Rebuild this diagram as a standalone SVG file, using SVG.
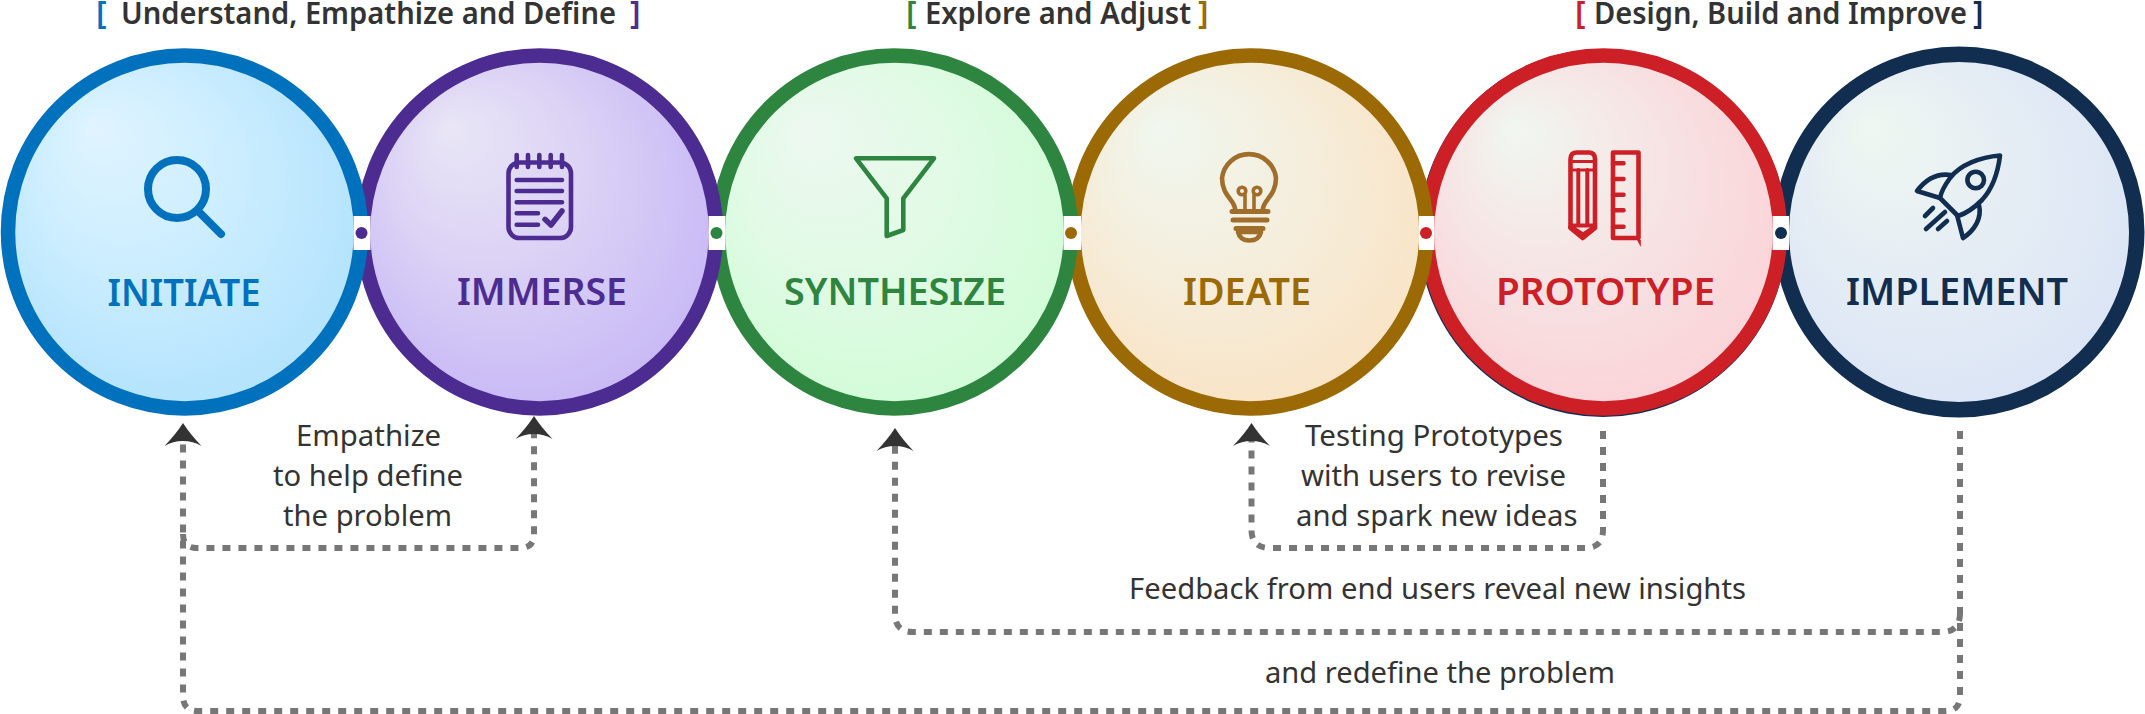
<svg xmlns="http://www.w3.org/2000/svg" width="2145" height="714" viewBox="0 0 2145 714">
<style>
text{font-family:"Noto Sans","Open Sans","Liberation Sans",sans-serif}
.hd{font-size:30px;font-weight:600;fill:#333}
.br{font-size:32px;font-weight:600}
.lb{font-size:38px;font-weight:600}
.tx{font-size:29px;fill:#333}
.ring{stroke-width:14.5}
.gap{fill:#fff}
.ic{fill:none;stroke-width:4.6;stroke-linecap:round;stroke-linejoin:round}
.cn{fill:none;stroke:#777;stroke-width:6;stroke-dasharray:8 8;marker-end:url(#head)}
</style>
<defs>
<marker id="head" markerUnits="userSpaceOnUse" markerWidth="30" markerHeight="40" refX="5" refY="20" orient="auto" viewBox="0 0 30 40"><path d="M0 1.500Q12 13 23 20Q12 27 0 38.500Q5 30 5 20Q5 10 0 1.500Z" fill="#333"/></marker>
<radialGradient id="g1" cx=".47" cy=".44" r=".6" fx=".24" fy=".2"><stop offset="0" stop-color="#e0f4ff"/><stop offset=".45" stop-color="#cdeeff"/><stop offset="1" stop-color="#b1e2fd"/></radialGradient>
<radialGradient id="g2" cx=".47" cy=".44" r=".6" fx=".24" fy=".2"><stop offset="0" stop-color="#e9e6f6"/><stop offset=".45" stop-color="#dcd3f5"/><stop offset="1" stop-color="#c7b7f6"/></radialGradient>
<radialGradient id="g3" cx=".47" cy=".44" r=".58" fx=".24" fy=".2"><stop offset="0" stop-color="#edf8f0"/><stop offset=".45" stop-color="#e3fae7"/><stop offset="1" stop-color="#d1fcd7"/></radialGradient>
<radialGradient id="g4" cx=".47" cy=".44" r=".6" fx=".24" fy=".2"><stop offset="0" stop-color="#f0f7ef"/><stop offset=".45" stop-color="#f4efdf"/><stop offset="1" stop-color="#fae3c4"/></radialGradient>
<radialGradient id="g5" cx=".47" cy=".44" r=".6" fx=".24" fy=".2"><stop offset="0" stop-color="#f0f7f0"/><stop offset=".45" stop-color="#f6e6e6"/><stop offset="1" stop-color="#fbd2d7"/></radialGradient>
<radialGradient id="g6" cx=".47" cy=".44" r=".6" fx=".24" fy=".2"><stop offset="0" stop-color="#eff7f1"/><stop offset=".45" stop-color="#e6eef4"/><stop offset="1" stop-color="#dbe4f6"/></radialGradient>
</defs>
<rect width="2145" height="714" fill="#fff"/>

<g id="node-implement">
<circle cx="1959" cy="232" r="177.750" fill="url(#g6)" stroke="#112e51" stroke-width="15.500"/>
<g class="ic" stroke="#112e51">
<path d="M2000 155.500C1980 157 1960 165 1950 178C1945 185 1941 192 1940 198L1958 216C1968 213 1975 207 1982 200C1994 187 1998 172 2000 155.500Z"/>
<circle cx="1975.700" cy="180" r="8.300"/>
<path d="M1951 175C1938 173 1926 179 1917 191L1940 198"/>
<path d="M1979 205C1982 218 1975 230 1963 238L1957 215"/>
<path d="M1925 216L1933 208M1926 229L1945 212M1938 229L1947 221"/>
</g>
<text class="lb" x="1846" y="305" fill="#112e51" textLength="222" lengthAdjust="spacingAndGlyphs">IMPLEMENT</text>
</g>

<g id="node-prototype">
<circle cx="1603" cy="233" r="184" fill="#112e51"/>
<circle class="ring" cx="1603.500" cy="232" r="176.500" fill="url(#g5)" stroke="#cd2026"/>
<g class="ic" stroke="#cd2026">
<path d="M1577 152.500H1588.500Q1595 152.500 1595 159V228L1582.700 238L1570.500 228V159Q1570.500 152.500 1577 152.500Z"/>
<path stroke-width="3" d="M1571 161.500H1595M1571 170H1595M1571 225H1595"/>
<path stroke-width="4" d="M1578.300 170V224M1587.300 170V224"/>
<path d="M1613 152.500H1638.500V238H1613Z"/>
<path d="M1613 163.300H1623.500M1613 179H1623.500M1613 194.700H1623.500M1613 210.300H1623.500M1613 226.700H1623.500"/>
</g>
<path d="M1568 226H1597V228L1583 240L1568 228Z" fill="#cd2026"/>
<path d="M1576 227.500H1590L1583 232Z" fill="#f8e4e4"/>
<path d="M1637 240H1640.800V247Z" fill="#cd2026"/>
<text class="lb" x="1496" y="305" fill="#cd2026" textLength="219" lengthAdjust="spacingAndGlyphs">PROTOTYPE</text>
</g>

<g id="node-ideate">
<circle class="ring" cx="1250" cy="232" r="176.500" fill="url(#g4)" stroke="#9b6a05"/>
<g class="ic" stroke="#a06d2b">
<path d="M1235 209C1235 200 1222 196 1222 178A27.200 27.200 0 0 1 1276 178C1276 196 1263 200 1263 209"/>
<circle cx="1242" cy="191" r="3.800" stroke-width="3.600"/>
<circle cx="1257" cy="191" r="3.800" stroke-width="3.600"/>
<path stroke-width="3.600" d="M1245 195V209M1254 195V209"/>
<path stroke-width="5" d="M1232 211.500H1268M1233 220H1267M1236 228.500H1263"/>
<path d="M1238 232Q1240 240.500 1249.500 240.500Q1259 240.500 1261 232Z"/>
</g>
<text class="lb" x="1183" y="305" fill="#9b6a05" textLength="128" lengthAdjust="spacingAndGlyphs">IDEATE</text>
</g>

<g id="node-synthesize">
<circle class="ring" cx="894.500" cy="232" r="176.500" fill="url(#g3)" stroke="#2e8540"/>
<path class="ic" stroke="#2e8540" d="M856 158.300H934L903.300 198.300V230L886.700 236V198.300Z"/>
<text class="lb" x="784" y="305" fill="#2e8540" textLength="222" lengthAdjust="spacingAndGlyphs">SYNTHESIZE</text>
</g>

<g id="node-immerse">
<circle class="ring" cx="539.500" cy="232" r="176.500" fill="url(#g2)" stroke="#4d2c92"/>
<g class="ic" stroke="#4d2c92">
<rect x="508.500" y="162.500" width="62.500" height="75.500" rx="11"/>
<path d="M516.700 155V167M528 155V167M539.300 155V167M550.700 155V167M562 155V167"/>
<path d="M516.700 180H562M516.700 191H562M516.700 202.300H562M516.700 213.300H538M516.700 224.700H538"/>
<path stroke-width="5.500" d="M545 219.300L551 225L562 211"/>
</g>
<text class="lb" x="457" y="305" fill="#4d2c92" textLength="170" lengthAdjust="spacingAndGlyphs">IMMERSE</text>
</g>

<g id="node-initiate">
<circle class="ring" cx="184.500" cy="232" r="176.500" fill="url(#g1)" stroke="#0071bc"/>
<g class="ic" stroke="#0071bc" style="stroke-width:8">
<circle cx="177" cy="189" r="29"/>
<path d="M200 213L221 234"/>
</g>
<text class="lb" x="107.500" y="306" fill="#0071bc" textLength="153" lengthAdjust="spacingAndGlyphs">INITIATE</text>
</g>

<g id="joints">
<rect class="gap" x="353.500" y="216" width="17" height="34"/><circle cx="361.500" cy="233" r="6" fill="#4d2c92"/>
<rect class="gap" x="708.500" y="216" width="17" height="34"/><circle cx="716.500" cy="233" r="6" fill="#2e8540"/>
<rect class="gap" x="1063.500" y="216" width="17.500" height="34"/><circle cx="1071" cy="233" r="6" fill="#9b6a05"/>
<rect class="gap" x="1419" y="216" width="15.500" height="34"/><circle cx="1426" cy="233" r="6" fill="#cd2026"/>
<rect class="gap" x="1772.500" y="216" width="16.500" height="34"/><circle cx="1781" cy="233" r="6" fill="#112e51"/>
</g>

<g id="connectors">
<path class="cn" d="M183 534Q183 548 197 548H520Q534 548 534 534V434"/>
<path class="cn" d="M1960 431V696Q1960 711 1945 711H198Q183 711 183 696V441"/>
<path class="cn" d="M1960 613Q1960 632 1942 632H913Q895 632 895 614V446"/>
<path class="cn" d="M1603 431V530Q1603 548 1585 548H1270Q1251.500 548 1251.500 530V441"/>
</g>

<g id="headers">
<text class="br" x="96" y="24" fill="#0071bc">[</text>
<text class="hd" x="121" y="24" textLength="495" lengthAdjust="spacingAndGlyphs">Understand, Empathize and Define</text>
<text class="br" x="630" y="24" fill="#4d2c92">]</text>
<text class="br" x="906" y="24" fill="#2e8540">[</text>
<text class="hd" x="925" y="24" textLength="266" lengthAdjust="spacingAndGlyphs">Explore and Adjust</text>
<text class="br" x="1198" y="24" fill="#9b6a05">]</text>
<text class="br" x="1575" y="24" fill="#cd2026">[</text>
<text class="hd" x="1594" y="24" textLength="373" lengthAdjust="spacingAndGlyphs">Design, Build and Improve</text>
<text class="br" x="1973" y="24" fill="#112e51">]</text>
</g>

<g id="labels">
<text class="tx" x="296" y="446" textLength="145" lengthAdjust="spacingAndGlyphs">Empathize</text>
<text class="tx" x="273" y="486" textLength="190" lengthAdjust="spacingAndGlyphs">to help define</text>
<text class="tx" x="283" y="526" textLength="169" lengthAdjust="spacingAndGlyphs">the problem</text>
<text class="tx" x="1305" y="446" textLength="258" lengthAdjust="spacingAndGlyphs">Testing Prototypes</text>
<text class="tx" x="1301" y="486" textLength="265" lengthAdjust="spacingAndGlyphs">with users to revise</text>
<text class="tx" x="1296" y="526" textLength="281.500" lengthAdjust="spacingAndGlyphs">and spark new ideas</text>
<text class="tx" x="1129" y="599" textLength="617" lengthAdjust="spacingAndGlyphs">Feedback from end users reveal new insights</text>
<text class="tx" x="1265" y="683" textLength="350" lengthAdjust="spacingAndGlyphs">and redefine the problem</text>
</g>
</svg>
